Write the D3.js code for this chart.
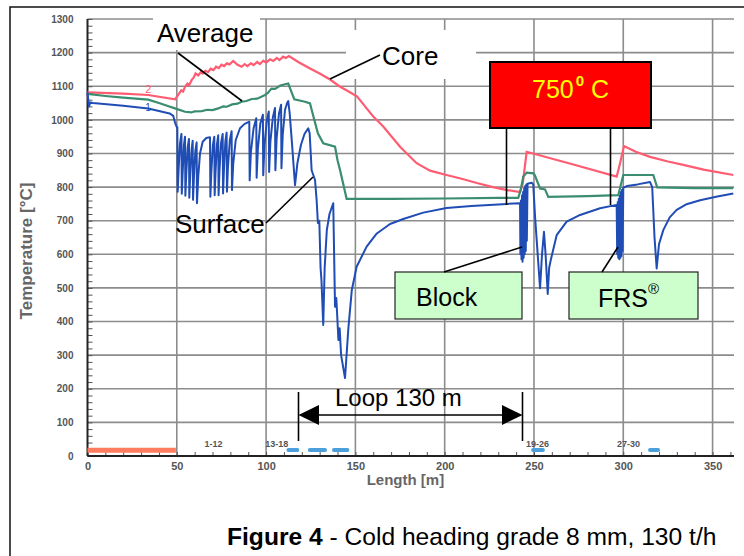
<!DOCTYPE html>
<html>
<head>
<meta charset="utf-8">
<script src="https://cdn.jsdelivr.net/npm/d3@7/dist/d3.min.js"></script>
<style>
body{margin:0;background:#fff;}
svg{display:block;font-family:Arial,"Liberation Sans",sans-serif;}
</style>
</head>
<body>
<div id="chart"></div>
<script>
// temperature curves, [length m, temp C]
var coreData = [[0,1082],[20,1078],[34,1074],[49,1061],[50.8,1074],[52.5,1088],[53.5,1084],[54.6,1098],[56,1108],[57,1104],
    [58.3,1118],[59.5,1126],[60.5,1138],[62,1132],[63.5,1142],[64.5,1138],[66,1146],[67.5,1142],[69,1152],[70.5,1148],
    [72,1158],[73.5,1154],[75,1164],[76.5,1160],[78,1168],[79.5,1165],[81.6,1175],[84,1164],[86.3,1158],[88,1166],
    [89.5,1160],[91.5,1168],[93,1163],[95,1172],[96.5,1166],[98.5,1176],[100,1170],[102.2,1180],[104,1175],[106,1184],
    [107.5,1178],[109.5,1188],[111,1184],[112.8,1190],[118,1172],[124.6,1153],[130,1138],[135.8,1120],[141,1100],[146,1085],
    [151,1069],[156.3,1034],[160,1010],[165.6,980],[175,920],[184.3,871],[191.8,849],[201,836],[210,824],[218,812],
    [227,800],[235,791],[242.1,785],[243.7,810],[245.9,905],[270,870],[296.3,831],[298.2,871],[300.4,922],[307,905],
    [315,890],[325,876],[333.6,866],[345,852],[361.6,836]];

var avgData = [[0,1077],[10,1071],[20,1066],[34,1060],[40,1050],[45,1041],[49,1034],[54.6,1024],[58,1022],[60,1025],
    [64,1026],[67,1030],[70,1029],[73.2,1034],[76,1040],[78,1039],[81,1046],[84,1048],[86.3,1054],[89,1056],
    [92,1062],[95,1063],[99.4,1074],[101,1080],[103,1093],[105,1092],[108,1102],[110.6,1106],[112.4,1108],[115.8,1061],
    [121.8,1054],[124.6,1049],[125.5,1030],[129,960],[132,930],[138.6,920],[140,880],[141.4,851],[145.1,765],[170,765],
    [200,766],[230,768],[241.2,768],[242.5,790],[244,831],[245.9,843],[249.6,841],[250.5,835],[253.4,796],[256.2,793],
    [258,771],[280,773],[297.2,776],[300,836],[316.8,836],[319,799],[340,797],[361.6,797]];

var surfData = [[0,1082],[0.8,1040],[1.6,1052],[3,1050],[20,1042],[34,1034],[46,1019],[48,1012],[49,992],[50,978],
    [50.3,978],[50.5,786],[51,850],[51.8,930],[52.6,958],[52.8,780],[53.3,845],[54,925],[54.6,950],[54.8,774],
    [55.3,840],[56.1,918],[56.8,943],[57,768],[57.5,836],[58.3,912],[58.9,938],[59.1,762],[59.6,830],[60.4,908],
    [61.1,933],[61.3,752],[62,830],[63,900],[64.5,935],[66.5,946],
    [68.6,948],[68.8,771],[69.3,840],[70.2,925],[71,950],[71.2,776],[71.7,845],[72.5,928],[73.2,954],[73.4,776],
    [73.9,848],[74.8,932],[75.7,958],[75.9,781],[76.4,852],[77.2,936],[77.9,962],[78.1,786],[78.6,856],[79.7,940],
    [80.7,966],[80.9,791],[81.6,870],[83,940],[85.4,975],[88,988],[90.4,994],
    [90.6,994],[90.8,820],[91.5,905],[93,975],[94.5,1005],[94.7,828],[95.4,915],[96.8,990],[98.2,1015],[98.4,835],
    [99.1,925],[100.4,998],[101.5,1025],[101.7,845],[102.4,935],[103.8,1008],[105,1035],[105.2,850],[105.9,945],[107.2,1018],
    [108.4,1045],[108.6,856],[109.3,955],[110.6,1030],[111.8,1050],[112.4,1056],
    [113.2,1020],[114.5,930],[116.2,806],[117.5,870],[119.5,925],[121.5,958],[123.6,975],[124.4,960],[125.5,850],[127.4,821],
    [128.3,761],[129,693],[129.8,700],[130.5,560],[131,523],[132,390],[132.8,560],[134,672],[135.5,720],[137.6,752],
    [138.6,444],[139.3,470],[139.8,420],[140.5,345],[141.2,380],[142,300],[144.2,232],[146,375],[148,494],[150.7,563],
    [156.3,623],[162,662],[169.4,690],[176.8,705],[188,724],[201,738],[215,744],[225,747],[235,750],[242,752],
    [242.2,752],[242.4,600],[242.7,760],[243,585],[243.3,775],[243.6,578],[243.9,785],[244.2,590],[244.5,795],[244.8,600],
    [245.1,803],[245.4,610],[245.7,808],[246,640],[246.4,810],[248.7,813],[249.6,808],[250.6,712],[253.4,499],[254.5,600],
    [255.6,667],[256.5,600],[257.7,482],[258.5,560],[259.4,583],[262.7,657],[268.3,697],[275.8,717],[287,737],[296.3,747],
    [296.6,600],[296.9,755],[297.2,590],[297.5,765],[297.8,585],[298.1,775],[298.4,590],[298.7,785],[299,595],[299.3,792],
    [299.6,610],[300,798],[302,803],[308,808],[315,815],[316.2,800],[317.5,650],[318.7,558],[320,630],[322.4,672],
    [326,710],[329.9,732],[335,748],[343,761],[352,771],[361.6,781]];

var yTicks = [0,100,200,300,400,500,600,700,800,900,1000,1100,1200,1300];
var xTicks = [0,50,100,150,200,250,300,350];

// stand positions along the line
var heatBar = [[0,49.5]];
var standBars = [[112.5,117.5],[124.5,133],[138,145.5],[249.5,255],[315,319.5]];
var standNames = ["1-12","13-18","19-26","27-30"];
var standPos = [70.5,106,252,303];

var width = 744, height = 556;
var svg = d3.select("#chart").append("svg")
    .attr("width", width)
    .attr("height", height);

var x = d3.scaleLinear().domain([0,362]).range([87.5,734]);
var y = d3.scaleLinear().domain([0,1300]).range([456,19]);

// outer frame
svg.append("path").attr("d","M10,556 L10,7 L744,7")
    .attr("fill","none").attr("stroke","#111").attr("stroke-width",1.5);

// grid
var grid = svg.append("g").attr("stroke","#8c8c8c").attr("stroke-width",1.6);
grid.selectAll(".hg").data(yTicks.filter(d=>d>0)).enter().append("line")
    .attr("x1",x(0)).attr("x2",x(362))
    .attr("y1",d=>y(d)).attr("y2",d=>y(d));
grid.selectAll(".vg").data(xTicks.filter(d=>d>0)).enter().append("line")
    .attr("x1",d=>x(d)).attr("x2",d=>x(d))
    .attr("y1",y(0)).attr("y2",y(1300));

// white patches behind the labels
svg.append("rect").attr("x",153).attr("y",17).attr("width",107).attr("height",33).attr("fill","#fff");
svg.append("rect").attr("x",346).attr("y",30).attr("width",130).attr("height",49).attr("fill","#fff");

// axes
var yAxis = svg.append("g").attr("transform","translate("+x(0)+",0)")
    .call(d3.axisLeft(y).tickValues(yTicks).tickSize(0).tickPadding(14).tickFormat(d3.format("d")));
yAxis.select(".domain").remove();
yAxis.selectAll("text").attr("font-size",10).attr("font-weight","bold").attr("fill","#555");

var yMinor = svg.append("g").attr("transform","translate("+x(0)+",0)")
    .call(d3.axisLeft(y).tickValues(d3.range(0,1301,20)).tickSize(-5).tickFormat(""));
yMinor.select(".domain").remove();
yMinor.selectAll("line").attr("stroke","#555");

var xAxis = svg.append("g").attr("transform","translate(0,"+y(0)+")")
    .call(d3.axisBottom(x).tickValues(xTicks).tickSize(0).tickPadding(6).tickFormat(d3.format("d")));
xAxis.select(".domain").remove();
xAxis.selectAll("text").attr("font-size",11).attr("font-weight","bold").attr("fill","#555");

var xMinor = svg.append("g").attr("transform","translate(0,"+y(0)+")")
    .call(d3.axisBottom(x).tickValues(d3.range(0,361,10)).tickSize(-4).tickFormat(""));
xMinor.select(".domain").remove();
xMinor.selectAll("line").attr("stroke","#555");

svg.append("line").attr("x1",x(0)).attr("x2",x(0)).attr("y1",y(1300)).attr("y2",y(0))
    .attr("stroke","#222").attr("stroke-width",2);
svg.append("line").attr("x1",x(0)).attr("x2",x(362)).attr("y1",y(0)).attr("y2",y(0))
    .attr("stroke","#222").attr("stroke-width",2);

svg.append("text").attr("transform","translate(32,251) rotate(-90)")
    .attr("text-anchor","middle").attr("font-size",17).attr("font-weight","bold").attr("fill","#666")
    .text("Temperature [°C]");
svg.append("text").attr("x",x(178)).attr("y",485)
    .attr("text-anchor","middle").attr("font-size",15).attr("font-weight","bold").attr("fill","#666")
    .text("Length [m]");

// stand markers at the bottom
svg.selectAll(".heat").data(heatBar).enter().append("line")
    .attr("x1",d=>x(d[0])).attr("x2",d=>x(d[1]))
    .attr("y1",y(17)).attr("y2",y(17))
    .attr("stroke","#ff7d5e").attr("stroke-width",5);
svg.selectAll(".stand").data(standBars).enter().append("line")
    .attr("x1",d=>x(d[0])).attr("x2",d=>x(d[1]))
    .attr("y1",y(18)).attr("y2",y(18))
    .attr("stroke","#4ba0dc").attr("stroke-width",4).attr("stroke-linecap","round");
svg.selectAll(".sname").data(standNames).enter().append("text")
    .attr("x",(d,i)=>x(standPos[i])).attr("y",y(28))
    .attr("text-anchor","middle").attr("font-size",9).attr("font-weight","bold").attr("fill","#555")
    .text(d=>d);

// curves
var line = d3.line().x(d=>x(d[0])).y(d=>y(d[1]));
svg.append("path").datum(coreData).attr("d",line)
    .attr("fill","none").attr("stroke","#ff5c72").attr("stroke-width",2.2);
svg.append("path").datum(avgData).attr("d",line)
    .attr("fill","none").attr("stroke","#3b8d6f").attr("stroke-width",2.2);
svg.append("path").datum(surfData).attr("d",line)
    .attr("fill","none").attr("stroke","#1f4db5").attr("stroke-width",2).attr("stroke-linejoin","round");

svg.append("text").attr("x",x(34)-3).attr("y",y(1080)).attr("font-size",11).attr("fill","#ff5c72").text("2");
svg.append("text").attr("x",x(34)-3).attr("y",y(1026)).attr("font-size",10).attr("fill","#1f4db5").text("1");

// annotations
function leader(x1,y1,x2,y2){
    svg.append("line").attr("x1",x1).attr("y1",y1).attr("x2",x2).attr("y2",y2)
        .attr("stroke","#000").attr("stroke-width",1.6);
}
function label(t,lx,ly,size){
    return svg.append("text").attr("x",lx).attr("y",ly).attr("font-size",size).attr("fill","#000").text(t);
}

leader(178,53,242,101);
label("Average",157,42,26);
leader(330,79,380,55);
label("Core",382,65,26);
leader(266,223,313,177);
label("Surface",175,233,26);

// 750 C box
svg.append("rect").attr("x",490).attr("y",62).attr("width",161).attr("height",66)
    .attr("fill","#ff0000").attr("stroke","#000").attr("stroke-width",2);
var t750 = svg.append("text").attr("x",532).attr("y",98).attr("font-size",25).attr("fill","#ffff00");
t750.append("tspan").text("750");
t750.append("tspan").attr("font-size",15).attr("font-weight","bold").attr("dx",2).attr("dy",-12).text("0");
t750.append("tspan").attr("dy",12).text(" C");
leader(506.5,128,506.5,205);
leader(610.5,128,610.5,205);

// Block and FRS boxes
svg.append("rect").attr("x",395).attr("y",272).attr("width",127).attr("height",47)
    .attr("fill","#ccffcc").attr("stroke","#222").attr("stroke-width",1.2);
label("Block",416,306,25);
leader(444,272,522,247);
svg.append("rect").attr("x",569).attr("y",272).attr("width",129).attr("height",47)
    .attr("fill","#ccffcc").attr("stroke","#222").attr("stroke-width",1.2);
var tfrs = label("FRS",598,307,25);
tfrs.append("tspan").attr("font-size",15).attr("dy",-13).text("®");
leader(602,272,618,247);

// loop arrow
leader(298.5,392,298.5,441);
leader(522.5,392,522.5,441);
leader(318,415,503,415);
svg.append("path").attr("d","M298.5,415 L319,405 L319,425 Z").attr("fill","#000");
svg.append("path").attr("d","M522.5,415 L502,405 L502,425 Z").attr("fill","#000");
label("Loop 130 m",335,406,24);

// caption
var cap = svg.append("text").attr("x",227).attr("y",545).attr("font-size",24.6).attr("fill","#000");
cap.append("tspan").attr("font-weight","bold").text("Figure 4");
cap.append("tspan").text(" - Cold heading grade 8 mm, 130 t/h");
</script>
</body>
</html>
